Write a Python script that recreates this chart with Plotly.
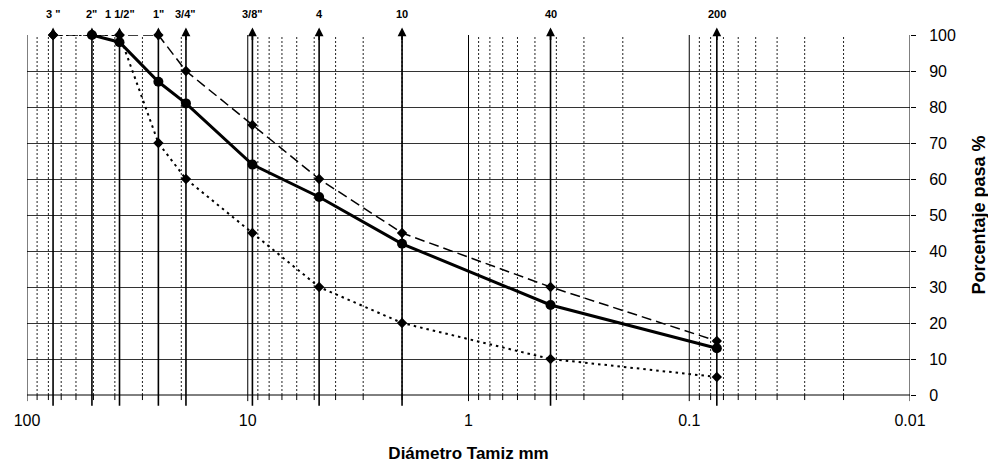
import math
import plotly.graph_objects as go

# ---- data ----
sieve_labels = ['3 "', '2"', '1 1/2"', '1"', '3/4"', '3/8"', '4', '10', '40', '200']
sieve_mm = [76.2, 50.8, 38.1, 25.4, 19.05, 9.525, 4.75, 2.0, 0.425, 0.075]

upper_x = [76.2, 50.8, 38.1, 25.4, 19.05, 9.525, 4.75, 2.0, 0.425, 0.075]
upper_y = [100, 100, 100, 100, 90, 75, 60, 45, 30, 15]

sample_x = [50.8, 38.1, 25.4, 19.05, 9.525, 4.75, 2.0, 0.425, 0.075]
sample_y = [100, 98, 87, 81, 64, 55, 42, 25, 13]

lower_x = [76.2, 50.8, 38.1, 25.4, 19.05, 9.525, 4.75, 2.0, 0.425, 0.075]
lower_y = [100, 100, 100, 70, 60, 45, 30, 20, 10, 5]

major_ticks = [100, 10, 1, 0.1, 0.01]
major_labels = ["100", "10", "1", "0.1", "0.01"]
y_ticks = [0, 10, 20, 30, 40, 50, 60, 70, 80, 90, 100]

FONT = "Liberation Sans, Arial, sans-serif"

fig = go.Figure()

fig.add_trace(go.Scatter(
    x=upper_x, y=upper_y, mode="lines+markers",
    line=dict(color="black", width=1.5, dash="10px,5px"),
    marker=dict(symbol="diamond", size=8, color="black"),
    cliponaxis=False, showlegend=False))
fig.add_trace(go.Scatter(
    x=lower_x, y=lower_y, mode="lines+markers",
    line=dict(color="black", width=2, dash="2.5px,4px"),
    marker=dict(symbol="diamond", size=8, color="black"),
    cliponaxis=False, showlegend=False))
fig.add_trace(go.Scatter(
    x=sample_x, y=sample_y, mode="lines+markers",
    line=dict(color="black", width=3),
    marker=dict(symbol="circle", size=10, color="black"),
    cliponaxis=False, showlegend=False))

shapes = []
# minor dotted vertical grid + small bottom ticks
for e in range(-2, 2):
    for m in range(2, 10):
        v = m * 10 ** e
        shapes.append(dict(type="line", xref="x", yref="paper",
                           x0=v, x1=v, y0=0, y1=1,
                           line=dict(color="#222222", width=1, dash="2px,2px"), layer="below"))
        shapes.append(dict(type="line", xref="x", yref="paper",
                           x0=v, x1=v, y0=-0.014, y1=0,
                           line=dict(color="black", width=1)))
# major solid vertical grid
for v in major_ticks:
    shapes.append(dict(type="line", xref="x", yref="paper",
                       x0=v, x1=v, y0=-0.017, y1=1,
                       line=dict(color="black", width=1)))
# sieve lines
for v in sieve_mm:
    shapes.append(dict(type="line", xref="x", yref="paper",
                       x0=v, x1=v, y0=-0.03, y1=1.0,
                       line=dict(color="black", width=1.6)))
# x axis line
shapes.append(dict(type="line", xref="paper", yref="paper", x0=0, x1=1, y0=0, y1=0,
                   line=dict(color="black", width=1)))

annotations = []
for v, lab in zip(sieve_mm, sieve_labels):
    annotations.append(dict(x=math.log10(v), y=1.021, xref="x", yref="paper",
                            text="", showarrow=True, ax=0, ay=14,
                            arrowhead=2, arrowsize=1.1, arrowwidth=1.6, arrowcolor="black"))
    annotations.append(dict(x=math.log10(v), y=1.058, xref="x", yref="paper",
                            yanchor="middle", text=f"<b>{lab}</b>", showarrow=False,
                            font=dict(family=FONT, size=11, color="black")))

fig.update_layout(
    width=988, height=455,
    margin=dict(l=19, r=86, t=27, b=68, autoexpand=False),
    paper_bgcolor="white", plot_bgcolor="white",
    font=dict(family=FONT, size=16, color="black"),
    shapes=shapes, annotations=annotations,
    xaxis=dict(type="log", range=[2, -2], tickvals=major_ticks, ticktext=major_labels,
               showgrid=False, zeroline=False, showline=False, ticks="",
               tickfont=dict(size=16), ticklabelstandoff=14,
               title=dict(text="<b>Diámetro Tamiz mm</b>", font=dict(size=17), standoff=19)),
    yaxis=dict(range=[0, 100], side="right", tickvals=y_ticks,
               showgrid=True, gridcolor="#333333", gridwidth=1,
               zeroline=False, showline=False, ticks="outside", ticklen=5,
               tickcolor="black", tickfont=dict(size=16), ticklabelstandoff=10,
               title=dict(text="<b>Porcentaje pasa %</b>", font=dict(size=18), standoff=17)),
)

fig.write_html("out.html")
